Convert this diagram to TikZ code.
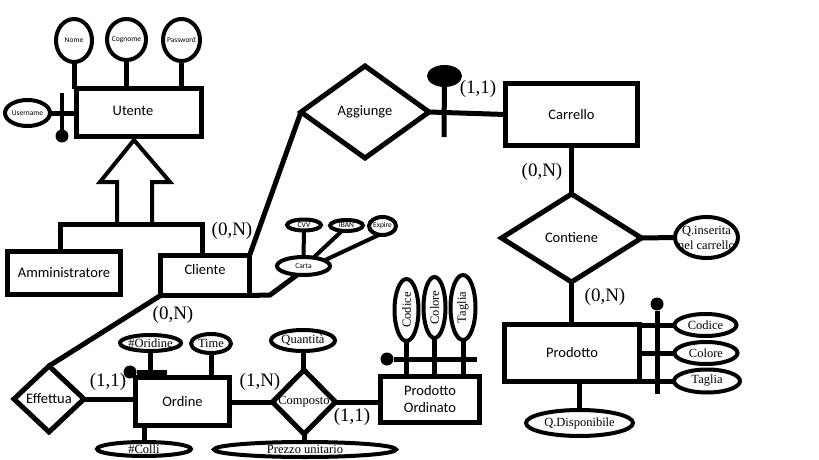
\documentclass[tikz,border=0pt]{standalone}
\usepackage{fontspec}
\usepackage{graphicx}
\setmainfont{Liberation Serif}
\newfontfamily\calfont{Carlito}
\usetikzlibrary{shapes.geometric}
\begin{document}
\begin{tikzpicture}[x=1pt,y=-1pt,line width=5pt,
  every node/.style={outer sep=0pt},
  ent/.style={draw,rectangle,inner sep=0pt,align=center,font=\calfont\fontsize{14.5}{17}\selectfont},
  rel/.style={draw,diamond,inner sep=0pt,aspect=1},
  rlab/.style={label={[font=\calfont\fontsize{14.5}{17}\selectfont]center:#1}},
  rslab/.style={label={[font=\fontsize{12.5}{14}\selectfont]center:#1}},
  attr/.style={draw,ellipse,inner sep=0pt,line width=4pt},
  slab/.style={label={[font=\fontsize{12.5}{15}\selectfont,align=center]center:#1}},
  tlab/.style={label={[font=\calfont\fontsize{7.5}{8}\selectfont]center:#1}},
  card/.style={font=\fontsize{19}{20}\selectfont,inner sep=0pt},
  dot/.style={circle,fill,inner sep=0pt,minimum size=13pt},
  thin/.style={line width=4pt}
]
\useasboundingbox (0,0) rectangle (819,460);

% ---------- entities ----------
\node[ent,minimum width=125pt,minimum height=48pt,
  label={[font=\calfont\fontsize{14.5}{17}\selectfont,xshift=-6pt,yshift=2pt]center:Utente}] (ute) at (139,112.5) {};
\node[ent,minimum width=113pt,minimum height=43pt] (amm) at (64,273) {Amministratore};
\node[ent,minimum width=89pt,minimum height=40pt,
  label={[font=\calfont\fontsize{14.5}{17}\selectfont,yshift=6pt]center:Cliente}] (cli) at (205,275.5) {};
\node[ent,minimum width=132pt,minimum height=62pt] (car) at (571.5,114.5) {Carrello};
\node[ent,minimum width=135pt,minimum height=57pt] (prod) at (572,353) {Prodotto};
\node[ent,minimum width=99pt,minimum height=46pt] (pord) at (430,399.5) {Prodotto\\Ordinato};
\node[ent,minimum width=94pt,minimum height=48pt] (ord) at (182.5,401.5) {Ordine};

% ---------- relationships ----------
\node[rel,rlab=Aggiunge,minimum width=128pt,minimum height=92pt] (agg) at (365,112) {};
\node[rel,rlab=Contiene,minimum width=140pt,minimum height=88pt] (con) at (571.5,238) {};
\node[rel,rslab=Composto,minimum width=63pt,minimum height=64pt] (comp) at (304,402) {};
\node[rel,rlab=Effettua,minimum width=70pt,minimum height=66pt] (eff) at (49,399) {};

% ---------- Utente attributes ----------
\node[attr,tlab=Nome,minimum width=36pt,minimum height=43pt] (nome) at (74,40.5) {};
\node[attr,tlab=Cognome,minimum width=39pt,minimum height=41pt] (cogn) at (126.5,39.5) {};
\node[attr,tlab=Password,minimum width=37pt,minimum height=42pt] (pass) at (181.5,40) {};
\node[attr,tlab=Username,minimum width=45pt,minimum height=26pt] (user) at (27.5,113) {};
\draw (nome.south) -- (nome.south |- ute.north);
\draw (cogn.south) -- (cogn.south |- ute.north);
\draw (pass.south) -- (pass.south |- ute.north);
\draw (user.east) -- (user.east -| ute.west);
\coordinate (ubt) at (62,93);
\node[dot] (ubb) at (62,136) {};
\draw[thin] (ubt) -- (ubb);

% ---------- generalisation ----------
\draw[thin] (117,224) -- (117,182) -- (100,182) -- (134,140) -- (170,182) -- (152,182) -- (152,224);
\coordinate (hl) at (60,224);
\coordinate (hr) at (202,224);
\draw (amm.north -| hl) -- (hl) -- (hr) -- (cli.north -| hr);

% ---------- Carta ----------
\node[attr,tlab=Carta,minimum width=53pt,minimum height=18pt] (carta) at (303.5,266) {};
\node[attr,tlab=CVV,minimum width=34pt,minimum height=11pt] (cvv) at (304,225) {};
\node[attr,tlab=IBAN,minimum width=33pt,minimum height=11pt] (iban) at (346.5,225.5) {};
\node[attr,tlab=Expire,minimum width=27pt,minimum height=18pt] (expi) at (382.5,226) {};
\coordinate (ck) at (270,295);
\draw (cli.south east) -- (ck) -- (carta.-125);
\draw[thin] (cvv.south) -- (carta.north);
\draw[thin] (iban.-130) -- (carta.40);
\draw[thin] (expi.-110) -- (carta.15);

% ---------- Aggiunge / Carrello ----------
\draw (cli.north east) -- (agg.west);
\draw (agg.east) -- (car.west);
\node[ellipse,fill,inner sep=0pt,minimum width=35pt,minimum height=22pt] (cdot) at (444.5,76) {};
\coordinate (cbb) at (444,137);
\draw (cdot) -- (cbb);
\node[card] (c1) at (478,89) {(1,1)};
\node[card] (c2) at (232,231) {(0,N)};

% ---------- Contiene ----------
\draw (car.south) -- (con.north);
\node[card] (c3) at (542,172) {(0,N)};
\node[attr,slab={Q.inserita\\nel carrello},minimum width=63pt,minimum height=41pt] (qins) at (706.5,237.5) {};
\draw (con.east) -- (qins.west);
\draw (con.south) -- (con.south |- prod.north);
\node[card] (c4) at (605,297) {(0,N)};

% ---------- Prodotto attributes ----------
\node[attr,slab=Codice,minimum width=62pt,minimum height=22pt] (pcod) at (705.5,325) {};
\node[attr,slab=Colore,minimum width=63pt,minimum height=22pt] (pcol) at (706,353) {};
\node[attr,slab=Taglia,minimum width=66pt,minimum height=23pt] (ptag) at (707,381) {};
\draw (pcod.west -| prod.east) -- (pcod.west);
\draw (pcol.west -| prod.east) -- (pcol.west);
\draw (ptag.west -| prod.east) -- (ptag.west);
\node[dot] (pdot) at (657,304) {};
\coordinate (pbb) at (657,394);
\draw (pdot) -- (pbb);
\node[attr,slab=Q.Disponibile,minimum width=107pt,minimum height=26pt] (qdisp) at (579.5,423) {};
\draw (qdisp.north) -- (qdisp.north |- prod.south);

% ---------- Prodotto Ordinato attributes ----------
\node[attr,slab={\rotatebox{90}{Codice}},minimum width=24pt,minimum height=62pt] (oc) at (406.5,310) {};
\node[attr,slab={\rotatebox{90}{Colore}},minimum width=22pt,minimum height=61pt] (ocl) at (434.5,307.5) {};
\node[attr,slab={\rotatebox{90}{Taglia}},minimum width=25pt,minimum height=65pt] (otg) at (463,307.5) {};
\draw (oc.south) -- (oc.south |- pord.north);
\draw (ocl.south) -- (ocl.south |- pord.north);
\draw (otg.south) -- (otg.south |- pord.north);
\node[dot] (odot) at (387,359) {};
\coordinate (obr) at (477,359);
\draw (odot) -- (obr);

% ---------- Composto ----------
\draw (comp.east) -- (comp.east -| pord.west);
\draw (comp.west -| ord.east) -- (comp.west);
\node[attr,slab=Quantità,minimum width=64pt,minimum height=21pt] (quant) at (303,340.5) {};
\node[attr,slab=Prezzo unitario,minimum width=182pt,minimum height=15pt] (prezzo) at (305,449.5) {};
\draw (quant.south) -- (quant.south |- comp.north);
\draw (comp.south) -- (comp.south |- prezzo.north);
\node[card] (c5) at (260,382) {(1,N)};
\node[card] (c6) at (352,417) {(1,1)};

% ---------- Ordine attributes ----------
\node[attr,slab=Time,minimum width=40pt,minimum height=19pt] (time) at (211,343.5) {};
\node[attr,slab=\#Oridine,minimum width=61pt,minimum height=16pt] (orid) at (150.5,343) {};
\node[attr,slab=\#Colli,minimum width=94pt,minimum height=14pt] (colli) at (144,449) {};
\draw (time.south) -- (time.south |- ord.north);
\draw (orid.south) -- (orid.south |- ord.north);
\draw (colli.north) -- (colli.north |- ord.south);
\node[dot] (odot2) at (130,372) {};
\coordinate (obr2) at (167,372);
\draw (odot2) -- (obr2);

% ---------- Effettua ----------
\draw (eff.east) -- (eff.east -| ord.west);
\draw (eff.north) -- (cli.south west);
\node[card] (c7) at (108,382) {(1,1)};
\node[card] (c8) at (173,315) {(0,N)};
\end{tikzpicture}
\end{document}
